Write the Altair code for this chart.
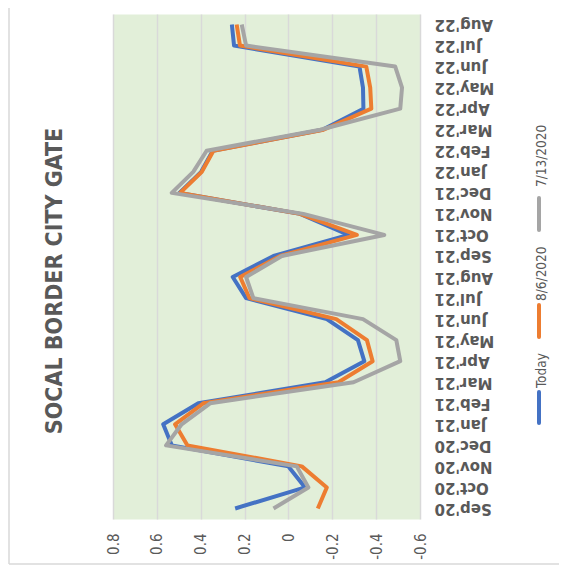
import altair as alt
import pandas as pd

chart_title = "SOCAL BORDER CITY GATE"

months = ["Sep'20", "Oct'20", "Nov'20", "Dec'20", "Jan'21", "Feb'21", "Mar'21", "Apr'21",
          "May'21", "Jun'21", "Jul'21", "Aug'21", "Sep'21", "Oct'21", "Nov'21", "Dec'21",
          "Jan'22", "Feb'22", "Mar'22", "Apr'22", "May'22", "Jun'22", "Jul'22", "Aug'22"]

today = [0.243, -0.076, 0.0, 0.532, 0.571, 0.411, -0.168, -0.346, -0.317, -0.175, 0.193, 0.254,
         0.068, -0.274, -0.053, 0.497, 0.398, 0.345, -0.155, -0.342, -0.340, -0.324, 0.248, 0.258]
aug6 = [-0.134, -0.175, -0.061, 0.461, 0.517, 0.388, -0.228, -0.384, -0.358, -0.218, 0.178, 0.220,
        0.038, -0.312, -0.053, 0.494, 0.395, 0.342, -0.160, -0.378, -0.373, -0.355, 0.221, 0.236]
jul13 = [0.068, -0.091, -0.038, 0.558, 0.487, 0.357, -0.297, -0.510, -0.492, -0.340, 0.160, 0.193,
         0.030, -0.437, -0.068, 0.532, 0.434, 0.373, -0.145, -0.510, -0.518, -0.487, 0.193, 0.213]

series_names = ["Today", "8/6/2020", "7/13/2020"]
series_colors = ["#4472C4", "#ED7D31", "#A5A5A5"]
series_values = [today, aug6, jul13]
tick_values = [0.8, 0.6, 0.4, 0.2, 0.0, -0.2, -0.4, -0.6]

NARROW = "Liberation Sans Narrow, DejaVu Sans Condensed, Arial Narrow, sans-serif"
TXT = "#595959"

rows = []
for name, vals in zip(series_names, series_values):
    for m, v in zip(months, vals):
        rows.append({"month": m, "series": name, "value": v})
df = pd.DataFrame(rows)

x_enc = alt.X(
    "value:Q",
    scale=alt.Scale(domain=[0.8, -0.6], nice=False, zero=False),
    axis=alt.Axis(
        values=tick_values, labelAngle=270, labelAlign="right", labelBaseline="middle",
        labelPadding=14, ticks=False, domain=False, gridColor="#D9D9D9", gridWidth=1.5,
        labelFont=NARROW, labelFontSize=15, labelColor=TXT, title=None, labelOverlap=False,
        labelExpr="datum.value == 0 ? '0' : (datum.value < 0 ? '-' + format(-datum.value, '.1f') : format(datum.value, '.1f'))",
    ),
)
y_enc = alt.Y(
    "month:O",
    sort=months[::-1],
    scale=alt.Scale(type="point", padding=0.5),
    axis=alt.Axis(
        orient="right", labelAngle=180, labelAlign="right", labelBaseline="middle",
        labelPadding=14, ticks=False, domain=False, grid=False, labelFont="DejaVu Sans",
        labelFontWeight="bold", labelFontSize=15, labelColor=TXT, title=None,
        labelOverlap=False,
    ),
)

line_layers = []
for name, color in zip(series_names, series_colors):
    line_layers.append(
        alt.Chart(df).transform_filter(alt.datum.series == name)
        .mark_line(color=color, strokeWidth=4, strokeJoin="round")
        .encode(x=x_enc, y=y_enc)
    )

# legend (drawn rotated like the reference), layout only
leg_line_top = [378, 291, 184]
leg_line_bot = [409, 323, 216]
leg_text_start = [374, 287, 173]
legend_df = pd.DataFrame({
    "series": series_names,
    "color": series_colors,
    "y1": leg_line_top,
    "y2": leg_line_bot,
    "ty": leg_text_start,
})
legend_rules = alt.Chart(legend_df).mark_rule(strokeWidth=4, strokeCap="round").encode(
    x=alt.value(426),
    y=alt.Y("y1:Q", scale=None, axis=None),
    y2="y2:Q",
    color=alt.Color("color:N", scale=None),
)
legend_text = alt.Chart(legend_df).mark_text(
    angle=270, align="left", baseline="middle", font=NARROW, fontSize=13.5, color=TXT
).encode(
    x=alt.value(429),
    y=alt.Y("ty:Q", scale=None, axis=None),
    text="series:N",
)

title_df = pd.DataFrame({"t": [chart_title]})
title_mark = alt.Chart(title_df).mark_text(
    angle=270, align="center", baseline="alphabetic", font=NARROW, fontSize=23,
    fontWeight="bold", color=TXT
).encode(text="t:N", x=alt.value(-51), y=alt.value(267))

border_left = alt.Chart(title_df).mark_rule(color="#D9D9D9", strokeWidth=1.5).encode(
    x=alt.value(-104), y=alt.value(-14), y2=alt.value(550)
)
border_bottom = alt.Chart(title_df).mark_rule(color="#D9D9D9", strokeWidth=1.5).encode(
    x=alt.value(-104), x2=alt.value(446), y=alt.value(550)
)

chart = alt.layer(
    *line_layers, legend_rules, legend_text, title_mark, border_left, border_bottom
).properties(
    width=307,
    height=505,
    autosize=alt.AutoSizeParams(type="none"),
    padding={"left": 105, "top": 6, "right": 139, "bottom": 46},
    background="white",
).configure_view(fill="#E2EFD9", stroke="transparent")

chart.save("out.html", embed_options={"renderer": "svg", "actions": False})
